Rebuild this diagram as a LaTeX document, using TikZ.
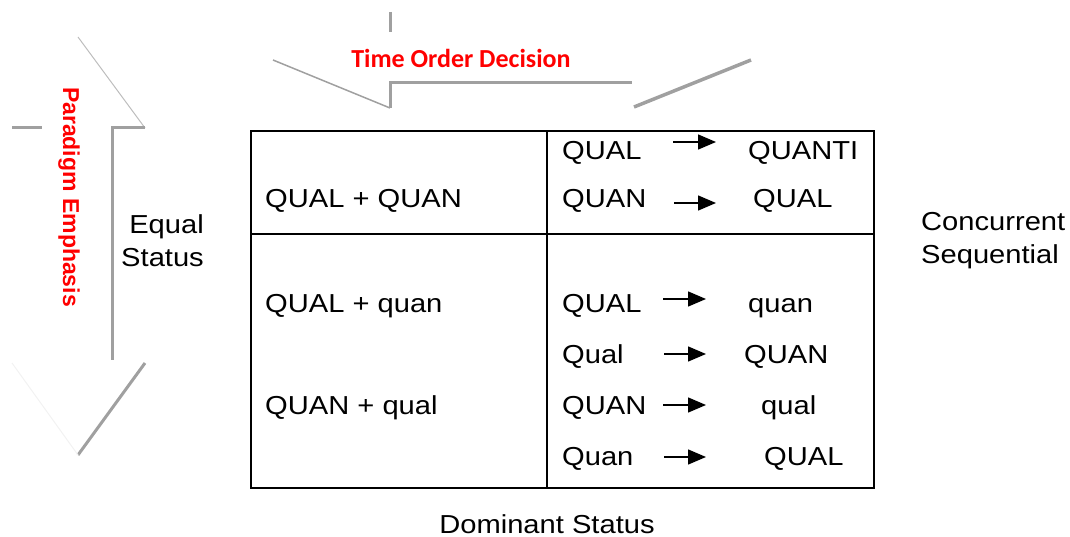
\documentclass[tikz,border=0pt]{standalone}
\usepackage{fontspec}
\setmainfont{Liberation Sans}
\newfontfamily\bodyfont[FakeStretch=1.12]{Liberation Sans}
\newfontfamily\sidefont{Liberation Sans}
\newfontfamily\capfont{Carlito}
\usetikzlibrary{arrows.meta}
\definecolor{guidegray}{HTML}{A0A0A0}
\definecolor{lightgray}{HTML}{BDBDBD}
\definecolor{faintgray}{HTML}{F2F2F2}
\begin{document}
\begin{tikzpicture}[x=1pt,y=-1pt,
  cell/.style={font=\bodyfont\fontsize{26}{31}\selectfont, anchor=base west, inner sep=0pt},
  lbl/.style={font=\bodyfont\fontsize{26}{31}\selectfont, inner sep=0pt},
  flow/.style={line width=1.5pt, -{Triangle[length=18pt,width=15pt]}},
  frame/.style={line width=2pt, draw=black},
  guide/.style={draw=guidegray, line width=3pt},
  guidethin/.style={draw=guidegray, line width=1.5pt},
  guidelight/.style={draw=lightgray, line width=1pt},
  guidefaint/.style={draw=faintgray, line width=1pt}]
\useasboundingbox (0,0) rectangle (1070,537);

% matrix frame
\coordinate (nw) at (251,131);
\coordinate (se) at (874,488);
\coordinate (mt) at (547,131);
\coordinate (mb) at (547,488);
\coordinate (ml) at (251,234);
\coordinate (mr) at (874,234);
\draw[frame] (nw) rectangle (se);
\draw[frame] (mt) -- (mb);
\draw[frame] (ml) -- (mr);

% left column
\node[cell] (a1) at (265,208) {QUAL + QUAN};
\node[cell] (a2) at (265,312) {QUAL + quan};
\node[cell] (a3) at (265,414) {QUAN + qual};

% right column: sequences
\node[cell] (s1) at (562,160) {QUAL};  \node[cell] (t1) at (748,160) {QUANTI};
\node[cell] (s2) at (562,208) {QUAN};  \node[cell] (t2) at (753,208) {QUAL};
\node[cell] (s3) at (562,312) {QUAL};  \node[cell] (t3) at (748,312) {quan};
\node[cell] (s4) at (562,363) {Qual};  \node[cell] (t4) at (744,363) {QUAN};
\node[cell] (s5) at (562,414) {QUAN};  \node[cell] (t5) at (761,414) {qual};
\node[cell] (s6) at (562,465) {Quan};  \node[cell] (t6) at (764,465) {QUAL};

\coordinate (p1) at (673,142); \coordinate (q1) at (716,142);
\coordinate (p2) at (674,203); \coordinate (q2) at (716,203);
\coordinate (p3) at (663,299); \coordinate (q3) at (706,299);
\coordinate (p4) at (664,354); \coordinate (q4) at (706,354);
\coordinate (p5) at (663,405); \coordinate (q5) at (706,405);
\coordinate (p6) at (664,457); \coordinate (q6) at (706,457);
\foreach \i in {1,...,6} {\draw[flow] (p\i) -- (q\i);}

% axis labels
\node[lbl, anchor=base east] (eq1) at (204,234) {Equal};
\node[lbl, anchor=base east] (eq2) at (204,266) {Status};
\node[lbl, anchor=base west] (cs1) at (921,231) {Concurrent};
\node[lbl, anchor=base west] (cs2) at (921,263) {Sequential};
\node[lbl, anchor=base] (dom) at (547,533) {Dominant Status};

% red headings
\node[font=\capfont\bfseries\fontsize{26}{31}\selectfont, text=red, anchor=base, inner sep=0pt] (tod) at (461,68) {Time Order Decision};
\node[font=\sidefont\bfseries\fontsize{23}{28}\selectfont, text=red, rotate=-90, inner sep=0pt] (pe) at (69,197) {Paradigm Emphasis};

% top block arrow outline
\draw[guide] (390,12) -- (390,32);
\draw[guidethin] (273,60) -- (390,108);
\draw[guide] (390,108) -- (390,83) -- (632,83);
\draw[guide, line width=3.5pt] (634,107) -- (751,60);

% left block arrow outline
\draw[guide] (12,128) -- (42,128);
\draw[guidelight] (78,37) -- (145,128);
\draw[guide] (145,128) -- (112,128) -- (112,360);
\draw[guide] (145,363) -- (78,455);
\draw[guidefaint] (12,363) -- (78,455);
\end{tikzpicture}
\end{document}
